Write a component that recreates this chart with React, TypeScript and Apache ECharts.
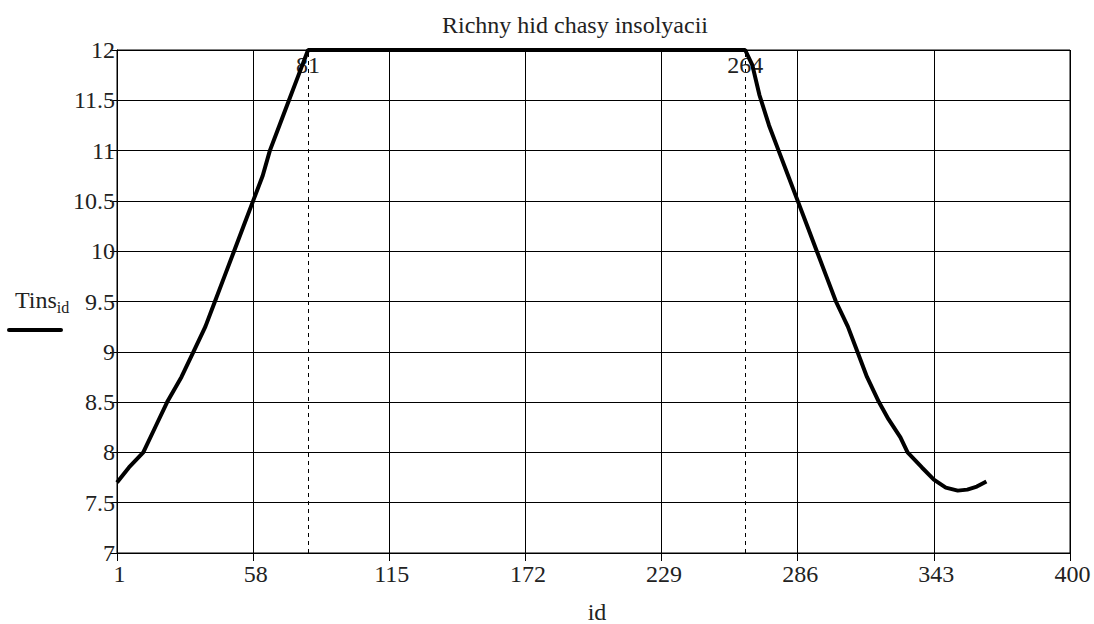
import React, { useEffect, useRef } from "react";
import * as echarts from "echarts";

const titleText = "Richny hid chasy insolyacii";
const xName = "id";
const legendMain = "Tins";
const legendSub = "id";

// Day number and insolation duration (hours)
const ids = [
  1, 6, 12, 17, 22, 28, 33, 38, 42, 46, 50, 54, 58, 62, 65, 69, 73, 77, 81,
  100, 130, 160, 190, 220, 250, 264,
  267, 270, 274, 278, 282, 286, 290, 294, 298, 302, 307, 311, 315, 320, 324,
  329, 332, 338, 343, 348, 353, 357, 361, 365,
];
const tins = [
  7.7, 7.85, 8.0, 8.25, 8.5, 8.75, 9.0, 9.25, 9.5, 9.75, 10.0, 10.25, 10.5,
  10.75, 11.0, 11.25, 11.5, 11.75, 12.0,
  12.0, 12.0, 12.0, 12.0, 12.0, 12.0, 12.0,
  11.85, 11.55, 11.25, 11.0, 10.75, 10.5, 10.25, 10.0, 9.75, 9.5, 9.25, 9.0,
  8.75, 8.5, 8.33, 8.15, 8.0, 7.85, 7.73, 7.65, 7.62, 7.63, 7.66, 7.71,
];
const markerIds = [81, 264];

const xMin = 1;
const xMax = 400;
const xStep = 57;
const yMin = 7;
const yMax = 12;
const yStep = 0.5;

const FONT = "'Liberation Serif', 'Times New Roman', serif";
const FS = 24;

export default function App() {
  const ref = useRef<HTMLDivElement>(null);
  useEffect(() => {
    if (!ref.current) return;
    const chart = echarts.init(ref.current, null, { renderer: "svg" });
    const data = ids.map((x, i) => [x, tins[i]]);
    chart.setOption({
      animation: false,
      backgroundColor: "#ffffff",
      textStyle: { fontFamily: FONT },
      grid: {
        left: 117,
        right: 24,
        top: 50,
        bottom: 71,
        containLabel: false,
        outerBoundsMode: "none",
        show: true,
        borderColor: "#000",
        borderWidth: 1,
      },
      xAxis: {
        type: "value",
        min: xMin,
        max: xMax,
        interval: xStep,
        axisLine: { show: true, lineStyle: { color: "#000", width: 1 } },
        axisTick: { show: true, length: 8, inside: false, lineStyle: { color: "#000" } },
        splitLine: { show: true, lineStyle: { color: "#000", width: 1 } },
        axisLabel: {
          color: "#222",
          fontFamily: FONT,
          fontSize: FS,
          margin: 9,
          padding: [0, 0, 0, 5],
        },
      },
      yAxis: {
        type: "value",
        min: yMin,
        max: yMax,
        interval: yStep,
        axisLine: { show: true, lineStyle: { color: "#000", width: 1 } },
        axisTick: { show: true, length: 7, inside: false, lineStyle: { color: "#000" } },
        splitLine: { show: true, lineStyle: { color: "#000", width: 1 } },
        axisLabel: {
          color: "#222",
          fontFamily: FONT,
          fontSize: FS,
          margin: 2,
          padding: [6, 0, 0, 0],
        },
      },
      series: [
        {
          type: "line",
          data,
          showSymbol: false,
          symbol: "none",
          smooth: false,
          lineStyle: { color: "#000", width: 4 },
          markLine: {
            silent: true,
            symbol: "none",
            label: { show: false },
            lineStyle: { color: "#000", width: 1, type: [4, 4] },
            data: markerIds.map((m) => ({ xAxis: m })),
          },
          markPoint: {
            symbol: "circle",
            symbolSize: 0,
            label: {
              show: true,
              position: "bottom",
              distance: 3,
              color: "#222",
              fontFamily: FONT,
              fontSize: FS,
              formatter: (p: any) => String(p.value),
            },
            data: markerIds.map((m) => ({ coord: [m, yMax], value: m })),
          },
          z: 5,
        },
      ],
      graphic: [
        {
          type: "text",
          x: 575,
          y: 25,
          style: {
            text: titleText,
            fontFamily: FONT,
            fontSize: FS,
            fill: "#222",
            align: "center",
            verticalAlign: "middle",
          },
        },
        {
          type: "text",
          x: 597,
          y: 612,
          style: {
            text: xName,
            fontFamily: FONT,
            fontSize: FS,
            fill: "#222",
            align: "center",
            verticalAlign: "middle",
          },
        },
        {
          type: "text",
          x: 15,
          y: 300,
          style: {
            text: `${legendMain}{sub|${legendSub}}`,
            fontFamily: FONT,
            fontSize: FS,
            fill: "#222",
            align: "left",
            verticalAlign: "middle",
            rich: {
              sub: {
                fontFamily: FONT,
                fontSize: 16,
                fill: "#222",
                padding: [14, 0, 0, 0],
              },
            },
          },
        },
        {
          type: "line",
          shape: { x1: 9, y1: 330, x2: 61, y2: 330 },
          style: { stroke: "#000", lineWidth: 4, lineCap: "round" },
        },
      ],
    });
    return () => chart.dispose();
  }, []);
  return (
    <div
      ref={ref}
      style={{ position: "absolute", left: 0, top: 0, width: 1094, height: 624 }}
    />
  );
}
